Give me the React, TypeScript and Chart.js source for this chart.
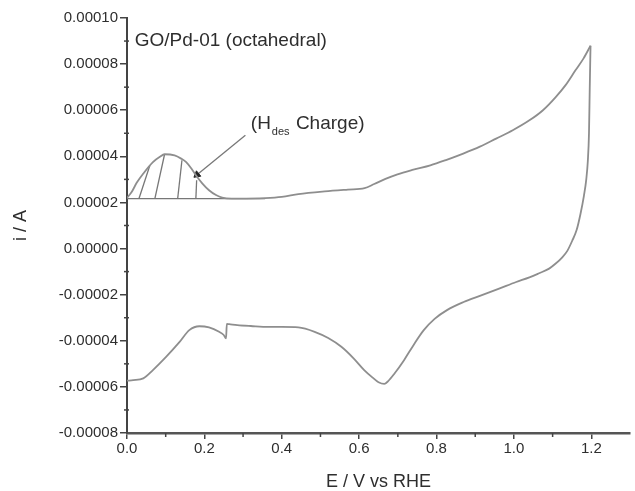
import React, { useEffect, useRef } from 'react';
import { Chart, registerables } from 'chart.js';

Chart.register(...registerables);

// Anodic sweep (E / V vs RHE, i / A)
const anodicE = [0.0, 0.012, 0.025, 0.042, 0.067, 0.085, 0.097, 0.123, 0.14, 0.153, 0.166, 0.178, 0.195, 0.212, 0.23, 0.246, 0.27, 0.289, 0.357, 0.4, 0.443, 0.511, 0.571, 0.614, 0.639, 0.668, 0.699, 0.74, 0.784, 0.826, 0.869, 0.912, 0.954, 0.997, 1.04, 1.075, 1.108, 1.134, 1.159, 1.18, 1.198];
const anodicI = [2.2e-5, 2.45e-5, 2.85e-5, 3.25e-5, 3.75e-5, 3.98e-5, 4.09e-5, 4.04e-5, 3.9e-5, 3.75e-5, 3.48e-5, 3.18e-5, 2.82e-5, 2.53e-5, 2.32e-5, 2.21e-5, 2.17e-5, 2.17e-5, 2.19e-5, 2.24e-5, 2.36e-5, 2.48e-5, 2.56e-5, 2.62e-5, 2.8e-5, 3.02e-5, 3.22e-5, 3.42e-5, 3.61e-5, 3.85e-5, 4.12e-5, 4.42e-5, 4.77e-5, 5.13e-5, 5.56e-5, 6.0e-5, 6.57e-5, 7.1e-5, 7.73e-5, 8.25e-5, 8.8e-5];

// Cathodic sweep
const cathodicE = [1.198, 1.196, 1.194, 1.191, 1.187, 1.181, 1.172, 1.162, 1.151, 1.138, 1.125, 1.108, 1.091, 1.065, 1.04, 1.006, 0.96, 0.912, 0.87, 0.827, 0.795, 0.767, 0.74, 0.716, 0.69, 0.675, 0.665, 0.65, 0.635, 0.613, 0.585, 0.554, 0.52, 0.485, 0.443, 0.4, 0.366, 0.32, 0.285, 0.264, 0.258, 0.256, 0.25, 0.238, 0.212, 0.187, 0.161, 0.136, 0.101, 0.067, 0.042, 0.016, 0.0];
const cathodicI = [8.8e-5, 7.0e-5, 5.0e-5, 3.8e-5, 3.0e-5, 2.3e-5, 1.5e-5, 8e-6, 3.5e-6, -1e-6, -3.8e-6, -6.5e-6, -8.7e-6, -1.07e-5, -1.25e-5, -1.45e-5, -1.75e-5, -2.05e-5, -2.32e-5, -2.67e-5, -3.05e-5, -3.54e-5, -4.2e-5, -4.84e-5, -5.45e-5, -5.75e-5, -5.87e-5, -5.8e-5, -5.6e-5, -5.27e-5, -4.75e-5, -4.26e-5, -3.88e-5, -3.61e-5, -3.42e-5, -3.4e-5, -3.4e-5, -3.36e-5, -3.32e-5, -3.28e-5, -3.27e-5, -3.9e-5, -3.75e-5, -3.61e-5, -3.42e-5, -3.37e-5, -3.54e-5, -4.05e-5, -4.7e-5, -5.27e-5, -5.63e-5, -5.71e-5, -5.73e-5];

// H desorption charge: baseline and hatch lines
const baselineE = [0.0, 0.357];
const baselineI = [2.17e-5, 2.17e-5];
const hatchBottomE = [0.031, 0.072, 0.131, 0.178];
const hatchTopE = [0.059, 0.097, 0.142, 0.18];
const hatchTopI = [3.6e-5, 4.08e-5, 3.83e-5, 2.96e-5];

// Arrow from annotation to peak
const arrowE = [0.306, 0.181];
const arrowI = [4.91e-5, 3.2e-5];

// Ticks
const xTicks = [0, 0.2, 0.4, 0.6, 0.8, 1.0, 1.2];
const xMinorTicks = [0.1, 0.3, 0.5, 0.7, 0.9, 1.1];
const yTicks = [-0.00008, -0.00006, -0.00004, -0.00002, 0, 0.00002, 0.00004, 0.00006, 0.00008, 0.0001];
const yMinorTicks = [-0.00007, -0.00005, -0.00003, -0.00001, 0.00001, 0.00003, 0.00005, 0.00007, 0.00009];

const FONT = '"Liberation Sans", Arial, sans-serif';
const TEXT = '#2e2e2e';
const CURVE = '#8e8e8e';

const pts = (xs: number[], ys: number[]) => xs.map((x, i) => ({ x, y: ys[i] }));

const overlay = {
  id: 'overlay',
  afterDraw(chart: any) {
    const { ctx, chartArea, scales } = chart;
    const x = scales.x;
    const y = scales.y;
    ctx.save();
    ctx.strokeStyle = '#444444';
    ctx.lineWidth = 1.5;
    xMinorTicks.forEach((v) => {
      const px = x.getPixelForValue(v);
      ctx.beginPath();
      ctx.moveTo(px, chartArea.bottom);
      ctx.lineTo(px, chartArea.bottom + 4);
      ctx.stroke();
    });
    yMinorTicks.forEach((v) => {
      const py = y.getPixelForValue(v);
      ctx.beginPath();
      ctx.moveTo(chartArea.left - 3, py);
      ctx.lineTo(chartArea.left + 2, py);
      ctx.stroke();
    });

    ctx.fillStyle = TEXT;
    ctx.textBaseline = 'middle';
    ctx.textAlign = 'left';
    ctx.font = `19px ${FONT}`;
    ctx.fillText('GO/Pd-01 (octahedral)', x.getPixelForValue(0.02), y.getPixelForValue(9.03e-5));

    const ax = x.getPixelForValue(0.32);
    const ay = y.getPixelForValue(5.41e-5);
    ctx.fillText('(H', ax, ay);
    const w1 = ctx.measureText('(H').width;
    ctx.font = `11px ${FONT}`;
    ctx.fillText('des', ax + w1 + 1, ay + 8);
    const w2 = ctx.measureText('des').width;
    ctx.font = `19px ${FONT}`;
    ctx.fillText(' Charge)', ax + w1 + 1 + w2 + 1, ay);
    ctx.restore();
  },
};

export default function App() {
  const ref = useRef<HTMLCanvasElement | null>(null);

  useEffect(() => {
    if (!ref.current) return;
    const lineDs = (data: any[], color: string, width: number, smooth = false) => ({
      data,
      showLine: true,
      borderColor: color,
      backgroundColor: color,
      borderWidth: width,
      pointRadius: 0,
      tension: smooth ? 0.4 : 0,
      cubicInterpolationMode: smooth ? 'monotone' : 'default',
      fill: false,
    });

    const hatchSets = hatchBottomE.map((b, i) =>
      lineDs([{ x: b, y: baselineI[0] }, { x: hatchTopE[i], y: hatchTopI[i] }], '#777777', 1.3)
    );

    const arrowSet = {
      ...lineDs(pts(arrowE, arrowI), '#777777', 1.3),
      pointRadius: [0, 4],
      pointStyle: 'triangle',
      rotation: 231,
      pointBackgroundColor: '#222222',
      pointBorderColor: '#222222',
      pointBorderWidth: 1,
    };

    const chart = new Chart(ref.current, {
      type: 'scatter',
      data: {
        datasets: [
          lineDs(pts(anodicE, anodicI), CURVE, 1.8, true),
          lineDs(pts(cathodicE, cathodicI), CURVE, 1.8, true),
          lineDs(pts(baselineE, baselineI), '#777777', 1.3),
          ...hatchSets,
          arrowSet,
        ] as any,
      },
      options: {
        responsive: false,
        animation: false,
        events: [],
        layout: { padding: { top: 18, right: 0, bottom: 0, left: 0 } },
        plugins: { legend: { display: false }, tooltip: { enabled: false } },
        scales: {
          x: {
            type: 'linear',
            min: 0,
            max: 1.3,
            afterFit: (s: any) => { s.height = 58; },
            afterBuildTicks: (s: any) => { s.ticks = xTicks.map((v) => ({ value: v })); },
            border: { display: true, color: '#555555', width: 2.5 },
            grid: { display: true, drawOnChartArea: false, drawTicks: true, tickLength: 6, color: '#444444', lineWidth: 1.5 },
            ticks: {
              color: TEXT,
              padding: 1,
              maxRotation: 0,
              font: { family: FONT, size: 15 },
              callback: (v: any) => Number(v).toFixed(1),
            },
            title: {
              display: true,
              text: 'E / V vs RHE',
              color: TEXT,
              font: { family: FONT, size: 18, lineHeight: 1 },
              padding: { top: 0, bottom: 0 },
            },
          },
          y: {
            type: 'linear',
            min: -0.00008,
            max: 0.0001,
            afterFit: (s: any) => { s.width = 127; },
            afterBuildTicks: (s: any) => { s.ticks = yTicks.map((v) => ({ value: v })); },
            border: { display: true, color: '#444444', width: 2 },
            grid: { display: true, drawOnChartArea: false, drawTicks: true, tickLength: 7, color: '#444444', lineWidth: 1.5 },
            ticks: {
              color: TEXT,
              padding: 2,
              font: { family: FONT, size: 15 },
              callback: (v: any) => {
                const n = Number(v);
                return (Math.abs(n) < 1e-12 ? 0 : n).toFixed(5);
              },
            },
            title: {
              display: true,
              text: 'i / A',
              color: TEXT,
              font: { family: FONT, size: 18 },
              padding: { top: 10, bottom: 0 },
            },
          },
        },
      },
      plugins: [overlay],
    });
    return () => chart.destroy();
  }, []);

  return (
    <div style={{ position: 'absolute', left: 0, top: 0, width: 635, height: 491, background: '#ffffff' }}>
      <canvas ref={ref} width={635} height={491} style={{ display: 'block' }} />
    </div>
  );
}
